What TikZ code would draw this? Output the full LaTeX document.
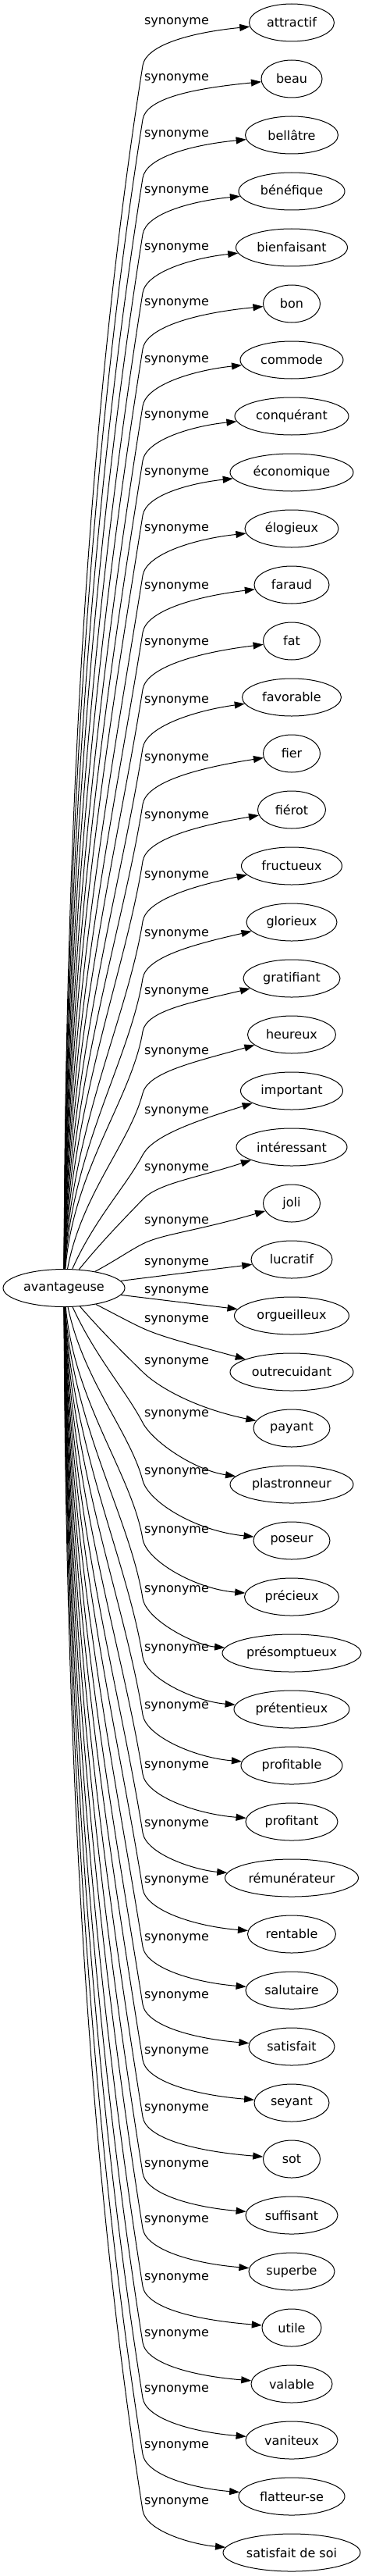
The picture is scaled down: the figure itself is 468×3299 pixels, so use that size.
\documentclass[tikz,border=0pt]{standalone}
\usepackage{fontspec}
\setmainfont{DejaVu Sans}
\usetikzlibrary{shapes.geometric,arrows.meta}
\begin{document}
\begin{tikzpicture}[x=1pt,y=-1pt,
  every node/.style={font=\fontsize{16pt}{19pt}\selectfont},
  word/.style={ellipse,draw,line width=1pt,minimum height=48pt,inner sep=0pt},
  lab/.style={inner sep=0pt},
  edge/.style={draw,line width=1pt,-{Triangle[length=13pt,width=9pt]}}]
\useasboundingbox (0,0) rectangle (468,3299);
\node[word,minimum width=156pt] (root) at (82,1649.5) {avantageuse};
% upper targets
\foreach \i/\t/\w/\L/\po/\xs in {
0/attractif/109/29/55/84,
1/beau/78/101/52/84.5,
2/bellâtre/119/173/55/85,
3/bénéfique/136/245/55/85.5,
4/bienfaisant/143/318/57/86,
5/bon/73/389/58/86.5,
6/commode/132/462/58/87,
7/conquérant/146/533/57/87.5,
8/économique/158/606/54/88,
9/élogieux/120/678/59/88.5,
10/faraud/96/752/58/89,
11/fat/73/824/59/89.5,
12/favorable/127/898/60/90,
13/fier/73/972/58/90.5,
14/fiérot/87/1046/57/91,
15/fructueux/129/1122/58/91.5,
16/glorieux/116/1197/56/92,
17/gratifiant/124/1271/50/93,
18/heureux/113/1348/52/94,
19/important/131/1424/55/96,
20/intéressant/142/1497/39/102,
21/joli/73/1565/28/123}{
  \pgfmathsetmacro{\N}{29+72*\i}
  \node[word,minimum width=\w pt] (t\i) at (374,\N) {\t};
  \node[lab] (l\i) at (226.5,\L) {synonyme};
  \pgfmathsetmacro{\Sy}{1649.5-24*sqrt(1-((\xs-82)/78)^2)}
  \pgfmathsetmacro{\Py}{\L+\po}
  \pgfmathsetmacro{\D}{abs(\Sy-\Py)}
  \pgfmathsetmacro{\f}{pow(max(0.0001,1-\D/330),2.2)}
  \pgfmathsetmacro{\ph}{9+70*\f}
  \pgfmathsetmacro{\pha}{max(0,\ph-9)*1.1}
  \pgfmathsetmacro{\d}{\D*sqrt(1+((183-\xs)/\D)^2)}
  \pgfmathsetmacro{\cax}{\xs+0.4*\d*sin(\pha)}
  \pgfmathsetmacro{\cay}{\Sy-0.4*\d*cos(\pha)}
  \pgfmathsetmacro{\cbx}{183-0.27*\d*sin(\ph)}
  \pgfmathsetmacro{\cby}{\Py+0.27*\d*cos(\ph)}
  \pgfmathsetmacro{\ccx}{183+28*sin(\ph)}
  \pgfmathsetmacro{\ccy}{\Py-28*cos(\ph)}
  \pgfmathsetmacro{\cdy}{\L+12}
  \draw[edge] (root) .. controls (\cax,\cay) and (\cbx,\cby) .. (183,\Py)
     .. controls (\ccx,\ccy) and (250,\cdy) .. (t\i);
}
% nearly straight middle targets
\node[word,minimum width=104pt] (t22) at (374,1613) {lucratif};
\node[lab] (l22) at (226.5,1618) {synonyme};
\draw[edge] (root) -- (t22);
\node[word,minimum width=147pt] (t23) at (374,1685) {orgueilleux};
\node[lab] (l23) at (226.5,1654) {synonyme};
\draw[edge] (root) -- (t23);
% lower targets
\foreach \i/\t/\w/\L/\po/\xs in {
24/outrecuidant/158/1691/10/123,
25/payant/98/1745/12/103,
26/plastronneur/158/1812/10/98,
27/poseur/98/1886/10/96,
28/précieux/121/1961/10/94.5,
29/présomptueux/178/2037/10/93.5,
30/prétentieux/148/2112/10/92.5,
31/profitable/130/2186/10/92,
32/profitant/118/2262/10/91.5,
33/rémunérateur/171/2337/10/91,
34/rentable/113/2409/10/90.5,
35/salutaire/118/2483/10/90,
36/satisfait/110/2557/10/89.5,
37/seyant/96/2628/10/89,
38/sot/73/2701/10/88.5,
39/suffisant/118/2773/10/88,
40/superbe/110/2844/10/87.5,
41/utile/76/2918/10/87,
42/valable/104/2990/10/86.5,
43/vaniteux/118/3061/10/86,
44/flatteur-se/136/3133/10/85,
45/satisfait de soi/176/3205/10/84}{
  \pgfmathsetmacro{\N}{29+72*\i}
  \node[word,minimum width=\w pt] (t\i) at (374,\N) {\t};
  \node[lab] (l\i) at (226.5,\L) {synonyme};
  \pgfmathsetmacro{\Sy}{1649.5+24*sqrt(1-((\xs-82)/78)^2)}
  \pgfmathsetmacro{\Py}{\L+\po}
  \pgfmathsetmacro{\D}{abs(\Py-\Sy)}
  \pgfmathsetmacro{\f}{pow(max(0.0001,1-\D/330),2.2)}
  \pgfmathsetmacro{\ph}{9+70*\f}
  \pgfmathsetmacro{\pha}{max(0,\ph-9)*1.1}
  \pgfmathsetmacro{\d}{\D*sqrt(1+((183-\xs)/\D)^2)}
  \pgfmathsetmacro{\cax}{\xs+0.4*\d*sin(\pha)}
  \pgfmathsetmacro{\cay}{\Sy+0.4*\d*cos(\pha)}
  \pgfmathsetmacro{\cbx}{183-0.27*\d*sin(\ph)}
  \pgfmathsetmacro{\cby}{\Py-0.27*\d*cos(\ph)}
  \pgfmathsetmacro{\ccx}{183+28*sin(\ph)}
  \pgfmathsetmacro{\ccy}{\Py+28*cos(\ph)}
  \pgfmathsetmacro{\cdy}{\N-10-30*\f}
  \draw[edge] (root) .. controls (\cax,\cay) and (\cbx,\cby) .. (183,\Py)
     .. controls (\ccx,\ccy) and (250,\cdy) .. (t\i);
}
\end{tikzpicture}
\end{document}
